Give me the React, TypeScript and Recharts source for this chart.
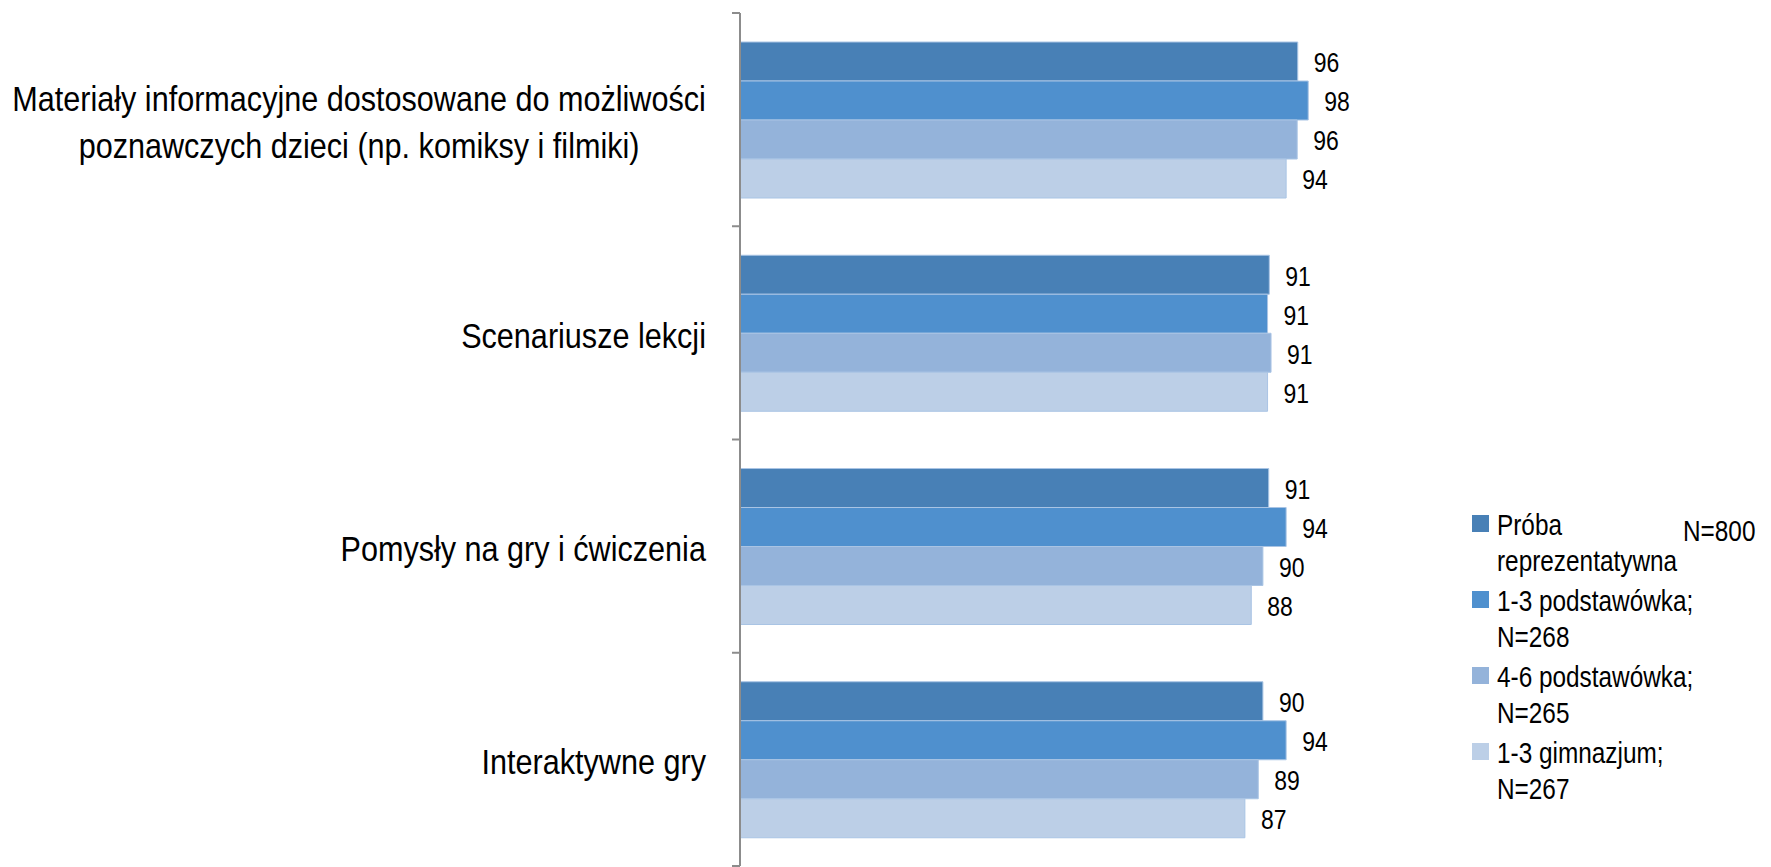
import { BarChart, Bar, XAxis, YAxis, LabelList } from "recharts";

// categories (top to bottom) and series values
const categories = [
  "Materiały informacyjne dostosowane do możliwości\npoznawczych dzieci (np. komiksy i filmiki)",
  "Scenariusze lekcji",
  "Pomysły na gry i ćwiczenia",
  "Interaktywne gry",
];
const proba = [96, 91.1, 91, 90];
const podst13 = [97.8, 90.8, 94, 94];
const podst46 = [95.9, 91.4, 90, 89.2];
const gimn = [94, 90.8, 88, 86.9];

const seriesNames = [
  "Próba\nreprezentatywna",
  "1-3 podstawówka;\nN=268",
  "4-6 podstawówka;\nN=265",
  "1-3 gimnazjum;\nN=267",
];
const COLORS = ["#4880B6", "#4F90CE", "#94B3DA", "#BCCFE7"];

// no Arial Narrow available: squeeze Liberation Sans horizontally instead
const FONT = '"Liberation Sans", Arial, sans-serif';
const SQUEEZE = 0.84;
const CAT_SIZE = 36;
const CAT_SQUEEZE = 0.85;

const data = categories.map((name, i) => ({
  name,
  proba: proba[i],
  podst13: podst13[i],
  podst46: podst46[i],
  gimn: gimn[i],
}));

const keys = ["proba", "podst13", "podst46", "gimn"];

let ctx: CanvasRenderingContext2D | null = null;
function textWidth(s: string) {
  if (!ctx) ctx = document.createElement("canvas").getContext("2d");
  if (!ctx) return s.length * CAT_SIZE * 0.5;
  ctx.font = `${CAT_SIZE}px "Liberation Sans", Arial, sans-serif`;
  return ctx.measureText(s).width;
}

function CategoryTick(props: any) {
  const { x, y, payload } = props;
  const lines = String(payload.value).split("\n");
  const lh = 47;
  const half = payload.offset || 106.5;
  const ax = x + 34;
  // lines are centred on each other, block is right-aligned to the axis
  const maxW = Math.max(...lines.map(textWidth));
  const cx = -maxW / 2;
  return (
    <g>
      <line x1={ax - 8} x2={ax} y1={y - half} y2={y - half} stroke="#8C8C8C" strokeWidth={2} />
      {payload.index === categories.length - 1 && (
        <line x1={ax - 8} x2={ax} y1={y + half} y2={y + half} stroke="#8C8C8C" strokeWidth={2} />
      )}
      <g transform={`translate(${x},${y + 2}) scale(${CAT_SQUEEZE},1)`}>
        <text
          x={cx}
          y={-((lines.length - 1) * lh) / 2}
          textAnchor="middle"
          dominantBaseline="central"
          fontFamily={FONT}
          fontSize={CAT_SIZE}
          fill="#000"
        >
          {lines.map((l, i) => (
            <tspan key={i} x={cx} dy={i === 0 ? 0 : lh}>
              {l}
            </tspan>
          ))}
        </text>
      </g>
    </g>
  );
}

function ValueLabel(props: any) {
  const { x, y, width, height, value } = props;
  const tx = Number(x) + Number(width) + 16;
  const ty = Number(y) + Number(height) / 2 + 1;
  return (
    <g transform={`translate(${tx},${ty}) scale(0.82,1)`}>
      <text x={0} y={0} dominantBaseline="central" fontFamily={FONT} fontSize={28} fill="#000">
        {Math.round(Number(value))}
      </text>
    </g>
  );
}

function LegendBox() {
  const squeeze = { transform: `scaleX(${SQUEEZE})`, transformOrigin: "left center", whiteSpace: "nowrap" as const };
  return (
    <div
      style={{
        position: "absolute",
        left: 1472,
        top: 507,
        fontFamily: FONT,
        fontSize: 29,
        color: "#000",
        width: 299,
      }}
    >
      {seriesNames.map((s, i) => (
        <div key={i} style={{ position: "relative", paddingLeft: 25, lineHeight: "36px", marginBottom: 4 }}>
          <span
            style={{
              position: "absolute",
              left: 0,
              top: 8,
              width: 17,
              height: 17,
              backgroundColor: COLORS[i],
            }}
          />
          {s.split("\n").map((l, j) => (
            <div key={j} style={squeeze}>{l}</div>
          ))}
        </div>
      ))}
      <div style={{ position: "absolute", left: 211, top: 6, lineHeight: "36px", ...squeeze }}>N=800</div>
    </div>
  );
}

export default function App() {
  return (
    <div style={{ position: "absolute", left: 0, top: 0, width: 1771, height: 867, background: "#fff" }}>
      <BarChart
        width={1771}
        height={867}
        data={data}
        layout="vertical"
        margin={{ top: 13, right: 450, left: 0, bottom: 1 }}
        barCategoryGap="13.6%"
        barGap={0}
      >
        <XAxis type="number" domain={[0, 100]} hide />
        <YAxis
          type="category"
          dataKey="name"
          width={740}
          axisLine={{ stroke: "#8C8C8C", strokeWidth: 2 }}
          tickLine={false}
          tickSize={0}
          tickMargin={34}
          interval={0}
          tick={<CategoryTick />}
        />
        {keys.map((k, i) => (
          <Bar key={k} dataKey={k} fill={COLORS[i]} stroke="#A9C4E4" strokeWidth={1} isAnimationActive={false}>
            <LabelList dataKey={k} content={<ValueLabel />} />
          </Bar>
        ))}
      </BarChart>
      <LegendBox />
    </div>
  );
}
